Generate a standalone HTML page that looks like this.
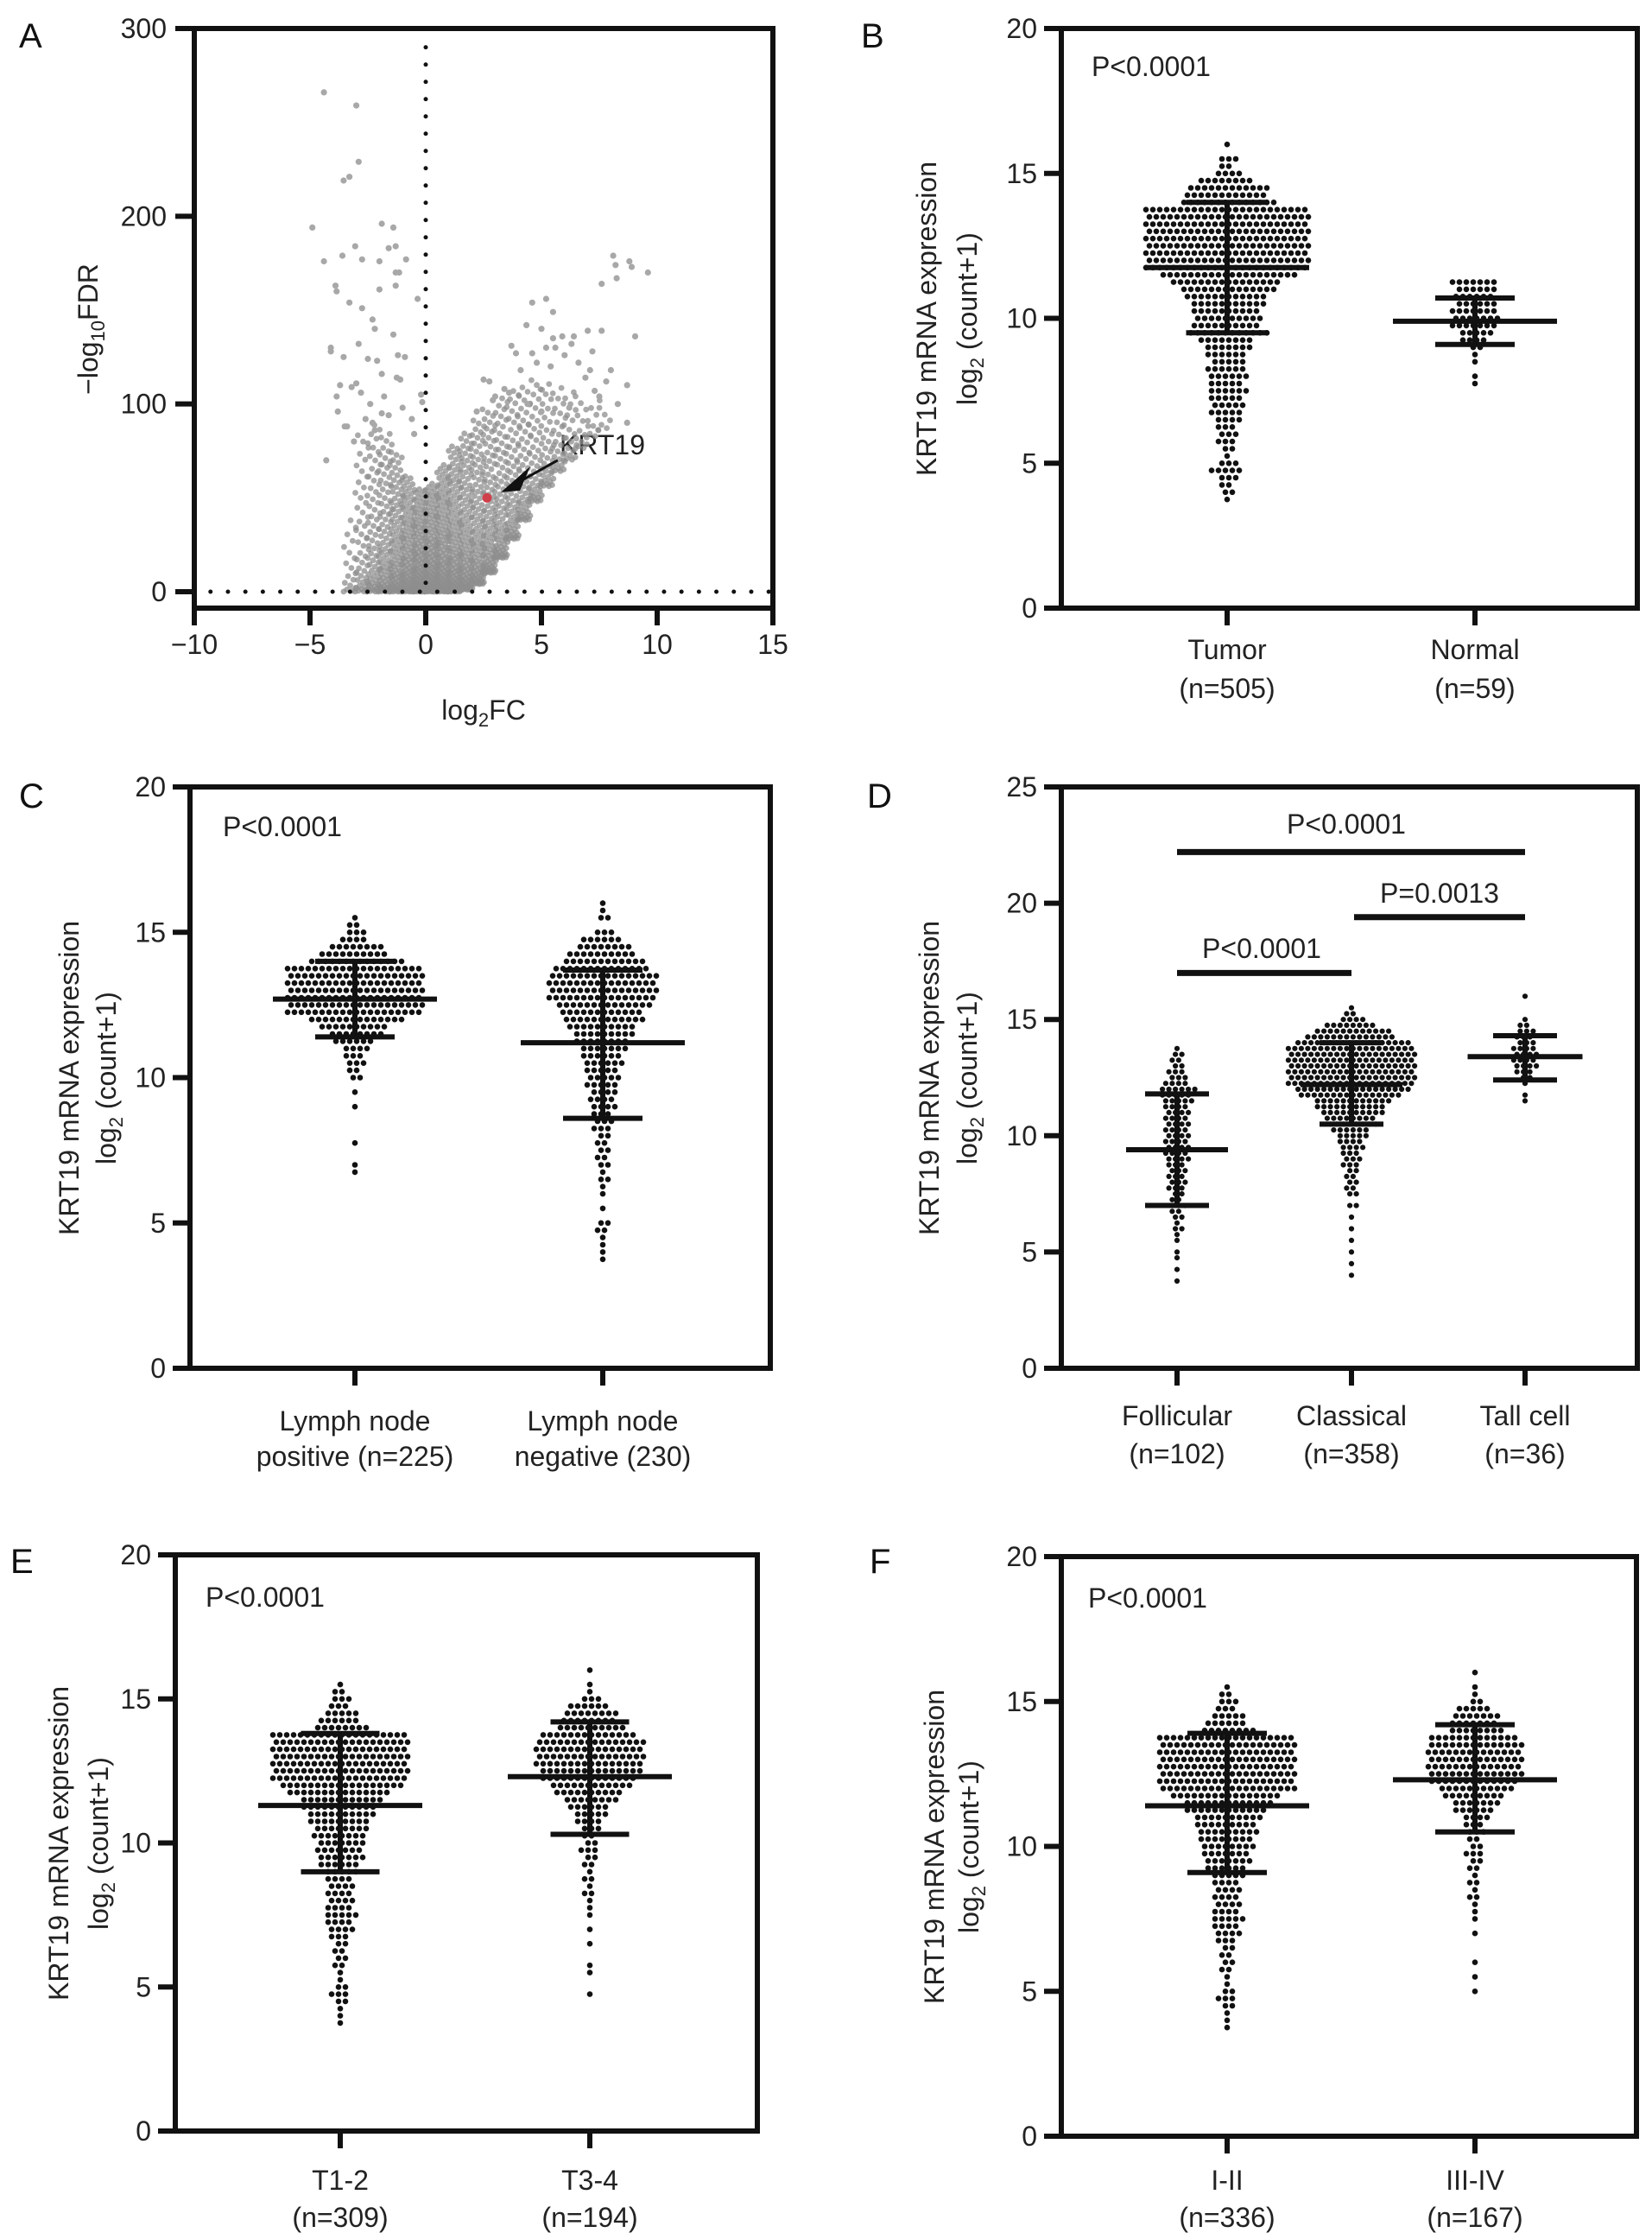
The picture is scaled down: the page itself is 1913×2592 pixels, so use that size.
<!DOCTYPE html>
<html><head><meta charset="utf-8"><title>KRT19 figure</title>
<style>
html,body{margin:0;padding:0;background:#fff;}
svg{display:block;font-family:"Liberation Sans",Arial,sans-serif;}
</style></head>
<body>
<svg id="fig" width="1913" height="2592" viewBox="0 0 1913 2592" xmlns="http://www.w3.org/2000/svg">
<rect x="0" y="0" width="1913" height="2592" fill="#fff"/>
<g font-size="40" fill="#111">
<text x="22" y="55">A</text>
<text x="997" y="55">B</text>
<text x="22" y="935">C</text>
<text x="1004" y="935">D</text>
<text x="12" y="1821">E</text>
<text x="1007" y="1821">F</text>
</g>
<g font-size="32" fill="#222">
<text transform="rotate(-90 113 381)" x="113" y="381" text-anchor="middle">−log<tspan font-size="22" dy="8">10</tspan><tspan dy="-8">FDR</tspan></text>
<text x="560" y="833" text-anchor="middle">log<tspan font-size="22" dy="8">2</tspan><tspan dy="-8">FC</tspan></text>
<text x="648" y="526" font-size="32">KRT19</text>

<text transform="rotate(-90 1084 369)" x="1084" y="369" text-anchor="middle">KRT19 mRNA expression</text>
<text transform="rotate(-90 1131 369)" x="1131" y="369" text-anchor="middle">log<tspan font-size="22" dy="8">2</tspan><tspan dy="-8"> (count+1)</tspan></text>
<text x="1264" y="88">P&lt;0.0001</text>
<text x="1421" y="763" text-anchor="middle">Tumor</text>
<text x="1421" y="808" text-anchor="middle">(n=505)</text>
<text x="1708" y="763" text-anchor="middle">Normal</text>
<text x="1708" y="808" text-anchor="middle">(n=59)</text>

<text transform="rotate(-90 91 1248)" x="91" y="1248" text-anchor="middle">KRT19 mRNA expression</text>
<text transform="rotate(-90 134 1248)" x="134" y="1248" text-anchor="middle">log<tspan font-size="22" dy="8">2</tspan><tspan dy="-8"> (count+1)</tspan></text>
<text x="258" y="968">P&lt;0.0001</text>
<text x="411" y="1656" text-anchor="middle">Lymph node</text>
<text x="411" y="1697" text-anchor="middle">positive (n=225)</text>
<text x="698" y="1656" text-anchor="middle">Lymph node</text>
<text x="698" y="1697" text-anchor="middle">negative (230)</text>

<text transform="rotate(-90 1087 1248)" x="1087" y="1248" text-anchor="middle">KRT19 mRNA expression</text>
<text transform="rotate(-90 1131 1248)" x="1131" y="1248" text-anchor="middle">log<tspan font-size="22" dy="8">2</tspan><tspan dy="-8"> (count+1)</tspan></text>
<text x="1363" y="1650" text-anchor="middle">Follicular</text>
<text x="1363" y="1694" text-anchor="middle">(n=102)</text>
<text x="1565" y="1650" text-anchor="middle">Classical</text>
<text x="1565" y="1694" text-anchor="middle">(n=358)</text>
<text x="1766" y="1650" text-anchor="middle">Tall cell</text>
<text x="1766" y="1694" text-anchor="middle">(n=36)</text>
<text x="1559" y="965" text-anchor="middle">P&lt;0.0001</text>
<text x="1667" y="1045" text-anchor="middle">P=0.0013</text>
<text x="1461" y="1109" text-anchor="middle">P&lt;0.0001</text>

<text transform="rotate(-90 79 2134)" x="79" y="2134" text-anchor="middle">KRT19 mRNA expression</text>
<text transform="rotate(-90 125 2134)" x="125" y="2134" text-anchor="middle">log<tspan font-size="22" dy="8">2</tspan><tspan dy="-8"> (count+1)</tspan></text>
<text x="238" y="1860">P&lt;0.0001</text>
<text x="394" y="2535" text-anchor="middle">T1-2</text>
<text x="394" y="2578" text-anchor="middle">(n=309)</text>
<text x="683" y="2535" text-anchor="middle">T3-4</text>
<text x="683" y="2578" text-anchor="middle">(n=194)</text>

<text transform="rotate(-90 1093 2138)" x="1093" y="2138" text-anchor="middle">KRT19 mRNA expression</text>
<text transform="rotate(-90 1133 2138)" x="1133" y="2138" text-anchor="middle">log<tspan font-size="22" dy="8">2</tspan><tspan dy="-8"> (count+1)</tspan></text>
<text x="1260" y="1861">P&lt;0.0001</text>
<text x="1421" y="2535" text-anchor="middle">I-II</text>
<text x="1421" y="2578" text-anchor="middle">(n=336)</text>
<text x="1708" y="2535" text-anchor="middle">III-IV</text>
<text x="1708" y="2578" text-anchor="middle">(n=167)</text>
</g>
</svg>
<script>
// ---------- Volcano (panel A) data ----------
const volXTicks = [-10, -5, 0, 5, 10, 15];
const volXTickLabels = ["−10", "−5", "0", "5", "10", "15"];
const volYTicks = [0, 100, 200, 300];
const outlierFC = [-4.4,-3.0,-2.9,-3.55,-3.3,-4.9,-4.4,-3.6,-3.05,-2.75,-1.9,-1.4,-1.6,-1.3,-2.0,-0.85,-1.3,-1.15,-3.9,-3.85,-2.0,-1.3,-0.35,-3.3,-2.75,-2.3,-2.2,-1.4,-4.1,-4.1,-2.9,-2.5,-1.2,-0.9,-3.55,-2.1,-1.9,-1.25,-1.1,-3.7,-3.2,-3.0,-3.85,-0.2,-0.15,8.1,8.2,8.8,8.9,9.6,7.6,8.25,4.6,5.2,5.5,9.05,4.35,5.0,5.5,5.9,6.4,7.0,7.6,3.7,3.9,4.6,5.2,5.6,6.3,8.0,8.7,7.2,8.7,2.5,2.75,6.9,7.3,7.8,-4.3,-3.8,-3.4,-2.6,-2.4,-1.8,-1.0,-0.6,-3.1,-2.2,-1.6,-0.5,2.2,3.0,3.4,4.1,4.8,5.4,6.0,6.6,7.1,7.5,8.3,6.2,5.0,4.4,3.6,2.9,-2.8,-1.9,-3.5,-2.3];
const outlierFDR = [266,259,229,219,221,194,176,179,184,177,196,194,183,184,176,177,170,170,163,160,161,163,156,154,151,145,140,137,130,128,132,124,126,125,125,123,116,114,113,110,109,111,104,105,101,179,174,176,173,170,164,167,154,156,149,136,142,140,135,136,136,139,139,131,127,127,130,130,132,118,110,128,90,113,112,114,107,112,70,96,88,92,100,104,98,92,80,86,94,84,96,104,108,118,122,120,126,122,118,104,100,98,96,100,106,102,106,95,88,90];
const cloudFC = [-3.25,-2.75,-2.25,-1.75,-1.25,-0.75,-0.25,0.25,0.75,1.25,1.75,2.25,2.75,3.25,3.75,4.25,4.75,5.25,5.75,6.25,6.75,7.25,7.75];
const cloudLow = [0,0,0,0,0,0,0,0,0,0,1,4,10,18,28,38,48,56,64,70,76,82,86];
const cloudHigh = [40,85,90,85,75,62,55,58,68,78,85,92,98,104,108,110,114,112,110,108,106,104,100];
const cloudCount = [18,45,65,80,95,105,115,120,120,118,110,100,90,78,65,55,45,36,28,20,14,9,6];
const krt19Point = [2.65, 50];

// ---------- Dot plot shared bin levels ----------
const levels = [16.25,16.0,15.75,15.5,15.25,15.0,14.75,14.5,14.25,14.0,13.75,13.5,13.25,13.0,12.75,12.5,12.25,12.0,11.75,11.5,11.25,11.0,10.75,10.5,10.25,10.0,9.75,9.5,9.25,9.0,8.75,8.5,8.25,8.0,7.75,7.5,7.25,7.0,6.75,6.5,6.25,6.0,5.75,5.5,5.25,5.0,4.75,4.5,4.25,4.0,3.75,3.5];
const yTicks20 = [0,5,10,15,20];
const yTicks25 = [0,5,10,15,20,25];

// Panel B
const tumorCounts = [0,1,0,3,2,4,8,12,12,14,24,24,24,24,24,24,24,24,24,20,16,14,12,11,10,10,10,12,8,7,6,5,6,6,5,6,5,5,5,4,3,3,3,2,1,3,5,3,2,2,1,0];
const normalCounts = [0,0,0,0,0,0,0,0,0,0,0,0,0,0,0,0,0,0,0,0,7,6,6,6,7,7,7,5,4,2,1,1,0,1,1,0,0,0,0,0,0,0,0,0,0,0,0,0,0,0,0,0];
const bMean = [11.75, 9.9];
const bSdHi = [14.0, 10.7];
const bSdLo = [9.5, 9.1];
// Panel C
const lnPosCounts = [0,0,0,1,2,3,4,8,10,14,20,20,20,20,20,20,20,14,10,8,6,4,3,3,2,2,0,1,0,1,0,0,0,0,1,0,0,1,1,0,0,0,0,0,0,0,0,0,0,0,0,0];
const lnNegCounts = [0,1,1,2,0,3,6,8,10,12,14,16,16,16,16,14,12,12,10,9,8,7,6,6,5,5,5,4,4,4,3,3,3,2,2,2,2,2,1,2,1,1,0,1,0,2,2,1,1,1,1,0];
const cMean = [12.7, 11.2];
const cSdHi = [14.0, 13.7];
const cSdLo = [11.4, 8.6];
// Panel D
const follCounts = [0,0,0,0,0,0,0,0,0,0,1,2,2,2,3,3,4,6,5,5,4,4,4,4,4,4,4,4,4,4,3,3,3,3,3,2,2,3,2,2,1,2,1,1,0,1,1,0,1,0,1,0];
const classCounts = [0,0,0,1,2,4,8,12,14,18,20,20,20,20,20,20,20,18,16,12,11,10,8,8,6,5,4,4,3,3,3,2,2,2,2,2,0,2,0,1,0,1,0,1,0,1,0,1,0,1,0,0];
const tallCounts = [0,1,0,0,0,1,2,3,3,3,4,4,4,4,3,2,1,0,1,1,0,0,0,0,0,0,0,0,0,0,0,0,0,0,0,0,0,0,0,0,0,0,0,0,0,0,0,0,0,0,0,0];
const dMean = [9.4, 12.2, 13.4];
const dSdHi = [11.8, 14.0, 14.3];
const dSdLo = [7.0, 10.5, 12.4];
const dSigValue = [22.2, 19.4, 17.0];
// Panel E
const t12Counts = [0,0,0,1,2,3,3,5,6,8,20,20,20,20,20,20,20,18,15,12,11,10,9,8,8,7,7,7,6,5,4,4,4,4,4,5,4,4,3,2,2,2,2,1,1,2,3,2,1,1,1,0];
const t34Counts = [0,1,0,1,1,3,6,8,8,10,14,16,16,16,16,15,14,12,10,8,6,5,4,3,2,2,3,2,2,1,2,1,2,1,1,1,0,1,0,1,0,0,1,1,0,0,1,0,0,0,0,0];
const eMean = [11.3, 12.3];
const eSdHi = [13.8, 14.2];
const eSdLo = [9.0, 10.3];
// Panel F
const s12Counts = [0,0,0,1,2,3,3,5,6,8,20,20,20,20,20,20,20,20,16,13,12,10,9,9,8,8,7,7,6,5,4,4,4,4,4,5,4,4,3,2,2,2,2,1,1,2,3,2,1,1,1,0];
const s34Counts = [0,1,0,1,1,2,5,7,7,8,13,14,14,14,14,14,13,11,9,7,6,4,3,3,2,2,3,2,2,1,2,1,2,1,1,1,0,1,0,0,0,1,0,1,0,1,0,0,0,0,0,0];
const fMean = [11.4, 12.3];
const fSdHi = [13.9, 14.2];
const fSdLo = [9.1, 10.5];

// ---------- Rendering ----------
const NS = 'http://www.w3.org/2000/svg';
const svg = document.getElementById('fig');
function mk(parent, tag, attrs) {
  const e = document.createElementNS(NS, tag);
  for (const k in attrs) e.setAttribute(k, attrs[k]);
  parent.appendChild(e);
  return e;
}
const AX = 6;

// Volcano
(function(){
  const L = {left:225, right:895, top:33, bottom:704, y0:685};
  const xs = v => L.left + (v + 10) / 25 * (L.right - L.left);
  const ys = v => L.y0 - v / 300 * (L.y0 - L.top);
  const g = mk(svg, 'g', {});
  
  
  const cloud = mk(g, 'g', {fill:'#8e8e8e', 'fill-opacity':'0.75'});
  
  
  for (let c = 0; c < cloudFC.length; c++) {
    const n = cloudCount[c];
    for (let i = 0; i < n; i++) {
      const u = (i * 0.6180339) % 1;
      const v = Math.pow((i + 0.5) / n, 1.8);
      const fx = cloudFC[c] - 0.3 + u * 0.6;
      const fy = cloudLow[c] + v * (cloudHigh[c] - cloudLow[c]);
      const p = mk(cloud, 'circle', {cx: xs(fx).toFixed(1), cy: ys(fy).toFixed(1), r: 3.4});
      
      
    }
  }
  const og = mk(g, 'g', {fill:'#a8a8a8'});
  
  
  for (let i = 0; i < outlierFC.length; i++) {
    const p = mk(og, 'circle', {cx: xs(outlierFC[i]).toFixed(1), cy: ys(outlierFDR[i]).toFixed(1), r: 3.6});
    
    
  }
  const vline = mk(g, 'line', {x1: xs(0), x2: xs(0), y1: ys(290), y2: ys(0), stroke:'#111', 'stroke-width':5, 'stroke-linecap':'round', 'stroke-dasharray':'0 20'});
  
  
  const hline = mk(g, 'line', {x1: xs(-9.3), x2: xs(15), y1: ys(0), y2: ys(0), stroke:'#111', 'stroke-width':5, 'stroke-linecap':'round', 'stroke-dasharray':'0 20.2'});
  
  
  const kp = mk(g, 'circle', {cx: xs(krt19Point[0]), cy: ys(krt19Point[1]), r: 5.5, fill:'#d0404a'});
  
  
  const ax1 = xs(5.7), ay1 = ys(70), ax2 = xs(3.25), ay2 = ys(53);
  const al = mk(g, 'line', {x1: ax1, y1: ay1, x2: ax2 + 14, y2: ay2 - 8, stroke:'#111', 'stroke-width':3});
  
  
  const ah = mk(g, 'polygon', {points: `${ax2},${ay2} ${ax2+34},${ay2-30} ${ax2+22},${ay2-2}`, fill:'#111'});
  
  
  const frame = mk(g, 'rect', {x: L.left, y: L.top, width: L.right - L.left, height: L.bottom - L.top, fill:'none', stroke:'#111', 'stroke-width': AX});
  
  
  volYTicks.forEach(t => {
    const tk = mk(g, 'line', {x1: L.left - 22, x2: L.left, y1: ys(t), y2: ys(t), stroke:'#111', 'stroke-width': AX});
    
    
    const tl = mk(g, 'text', {x: L.left - 32, y: ys(t) + 11, 'text-anchor':'end', 'font-size':32, fill:'#222'});
    tl.textContent = String(t);
    
    
  });
  volXTicks.forEach((t, i) => {
    const tk = mk(g, 'line', {x1: xs(t), x2: xs(t), y1: L.bottom, y2: L.bottom + 20, stroke:'#111', 'stroke-width': AX});
    
    
    const tl = mk(g, 'text', {x: xs(t), y: 757, 'text-anchor':'middle', 'font-size':32, fill:'#222'});
    tl.textContent = volXTickLabels[i];
    
    
  });
})();

function dotPanel(name, L, ymax, ticks, groups, dx, r) {
  const ys = v => L.bottom - v / ymax * (L.bottom - L.top);
  const g = mk(svg, 'g', {});
  
  
  groups.forEach(gr => {
    const dg = mk(g, 'g', {fill:'#111'});
    
    
    for (let k = 0; k < levels.length; k++) {
      const n = gr.counts[k];
      const shift = (k % 2) ? dx * 0.25 : -dx * 0.25;
      for (let j = 0; j < n; j++) {
        const cx = gr.x + (j - (n - 1) / 2) * dx + (n > 1 ? shift : 0);
        const d = mk(dg, 'circle', {cx: cx.toFixed(1), cy: ys(levels[k]).toFixed(1), r: r});
        
        
      }
    }
    const v = mk(g, 'line', {x1: gr.x, x2: gr.x, y1: ys(gr.sdHi), y2: ys(gr.sdLo), stroke:'#111', 'stroke-width':6});
    
    
    const m = mk(g, 'line', {x1: gr.x - gr.mw / 2, x2: gr.x + gr.mw / 2, y1: ys(gr.mean), y2: ys(gr.mean), stroke:'#111', 'stroke-width':6});
    
    
    const c1 = mk(g, 'line', {x1: gr.x - gr.sw / 2, x2: gr.x + gr.sw / 2, y1: ys(gr.sdHi), y2: ys(gr.sdHi), stroke:'#111', 'stroke-width':6});
    
    
    const c2 = mk(g, 'line', {x1: gr.x - gr.sw / 2, x2: gr.x + gr.sw / 2, y1: ys(gr.sdLo), y2: ys(gr.sdLo), stroke:'#111', 'stroke-width':6});
    
    
    const xt = mk(g, 'line', {x1: gr.x, x2: gr.x, y1: L.bottom, y2: L.bottom + 20, stroke:'#111', 'stroke-width':AX});
    
    
  });
  const frame = mk(g, 'rect', {x: L.left, y: L.top, width: L.right - L.left, height: L.bottom - L.top, fill:'none', stroke:'#111', 'stroke-width': AX});
  
  
  ticks.forEach(t => {
    const tk = mk(g, 'line', {x1: L.left - 20, x2: L.left, y1: ys(t), y2: ys(t), stroke:'#111', 'stroke-width': AX});
    
    
    const tl = mk(g, 'text', {x: L.left - 28, y: ys(t) + 11, 'text-anchor':'end', 'font-size':32, fill:'#222'});
    tl.textContent = String(t);
    
    
  });
  return ys;
}

dotPanel('panel-b-tumor-normal', {left:1229, right:1896, top:33, bottom:704}, 20, yTicks20, [
  {name:'tumor', x:1421, counts:tumorCounts, mean:bMean[0], sdHi:bSdHi[0], sdLo:bSdLo[0], mw:190, sw:95},
  {name:'normal', x:1708, counts:normalCounts, mean:bMean[1], sdHi:bSdHi[1], sdLo:bSdLo[1], mw:190, sw:92}
], 8, 3.3);

dotPanel('panel-c-lymph-node', {left:220, right:892, top:911, bottom:1584}, 20, yTicks20, [
  {name:'ln-positive', x:411, counts:lnPosCounts, mean:cMean[0], sdHi:cSdHi[0], sdLo:cSdLo[0], mw:190, sw:92},
  {name:'ln-negative', x:698, counts:lnNegCounts, mean:cMean[1], sdHi:cSdHi[1], sdLo:cSdLo[1], mw:190, sw:92}
], 8, 3.3);

const dY = dotPanel('panel-d-subtype', {left:1229, right:1896, top:911, bottom:1584}, 25, yTicks25, [
  {name:'follicular', x:1363, counts:follCounts, mean:dMean[0], sdHi:dSdHi[0], sdLo:dSdLo[0], mw:118, sw:74},
  {name:'classical', x:1565, counts:classCounts, mean:dMean[1], sdHi:dSdHi[1], sdLo:dSdLo[1], mw:118, sw:74},
  {name:'tall-cell', x:1766, counts:tallCounts, mean:dMean[2], sdHi:dSdHi[2], sdLo:dSdLo[2], mw:133, sw:74}
], 7.5, 3.1);
[[1363,1766],[1568,1766],[1363,1565]].forEach((p, i) => {
  const s = mk(svg, 'line', {x1: p[0], x2: p[1], y1: dY(dSigValue[i]), y2: dY(dSigValue[i]), stroke:'#111', 'stroke-width':7});
  
  
});

dotPanel('panel-e-t-stage', {left:203, right:877, top:1800, bottom:2467}, 20, yTicks20, [
  {name:'t1-2', x:394, counts:t12Counts, mean:eMean[0], sdHi:eSdHi[0], sdLo:eSdLo[0], mw:190, sw:91},
  {name:'t3-4', x:683, counts:t34Counts, mean:eMean[1], sdHi:eSdHi[1], sdLo:eSdLo[1], mw:190, sw:91}
], 8, 3.3);

dotPanel('panel-f-clinical-stage', {left:1229, right:1895, top:1802, bottom:2473}, 20, yTicks20, [
  {name:'stage-i-ii', x:1421, counts:s12Counts, mean:fMean[0], sdHi:fSdHi[0], sdLo:fSdLo[0], mw:190, sw:92},
  {name:'stage-iii-iv', x:1708, counts:s34Counts, mean:fMean[1], sdHi:fSdHi[1], sdLo:fSdLo[1], mw:190, sw:92}
], 8, 3.3);
</script>
</body></html>
